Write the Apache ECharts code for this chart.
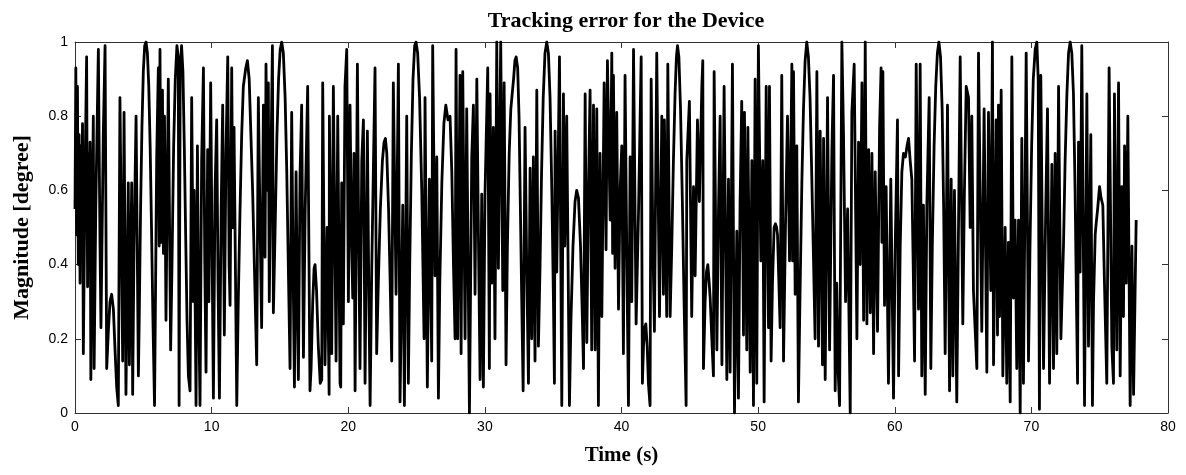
<!DOCTYPE html>
<html>
<head>
<meta charset="utf-8">
<script src="https://cdn.jsdelivr.net/npm/echarts@6/dist/echarts.min.js"></script>
<style>html,body{margin:0;padding:0;background:#fff;}#chart{width:1186px;height:475px;}</style>
</head>
<body>
<div id="chart"></div>
<script>
var titleText = 'Tracking error for the Device';
var xName = 'Time (s)';
var yName = 'Magnitude [degree]';
var xTicks = [0, 10, 20, 30, 40, 50, 60, 70, 80];
var yTicks = [0, 0.2, 0.4, 0.6, 0.8, 1];

var time = [
0.00,0.06,0.12,0.18,0.24,0.30,0.37,0.43,0.49,0.55,0.61,0.73,0.85,0.92,0.98,1.04,1.10,1.16,1.28,1.34,1.40,1.52,1.71,1.83,1.90,2.07,2.20,2.32,
2.44,2.56,2.68,2.81,2.93,3.05,3.17,3.29,3.49,3.59,3.73,3.90,3.98,4.15,4.22,4.32,4.47,4.64,
4.70,4.80,4.90,5.00,5.10,5.20,5.30,5.40,5.50,5.60,5.70,5.82,5.98,6.10,6.16,6.22,
6.30,6.40,6.47,6.55,6.66,6.83,7.00,7.10,7.22,7.34,7.46,7.56,7.62,7.70,7.80,7.90,8.00,8.10,8.20,8.30,8.42,
8.54,8.66,8.72,8.86,8.96,9.05,9.15,9.27,9.40,9.50,9.59,9.71,9.80,9.93,10.03,10.13,10.25,10.37,10.47,10.57,10.70,10.81,10.93,11.05,11.18,11.28,11.35,11.47,11.55,11.64,11.84,
11.95,12.08,12.20,12.32,12.50,12.62,12.75,13.00,13.30,
13.42,13.55,13.66,13.79,13.91,13.98,14.08,14.15,14.22,14.35,14.45,14.52,
14.65,14.78,14.90,15.02,15.13,15.25,15.38,15.50,15.62,15.74,
15.86,15.96,16.06,16.18,16.27,16.35,16.47,16.59,16.72,16.85,17.03,17.20,
17.28,17.40,17.50,17.57,17.68,17.81,17.95,18.06,
18.13,18.30,18.45,18.60,18.62,18.79,18.91,19.11,19.23,19.40,19.45,19.52,
19.64,19.76,19.89,20.01,20.13,20.25,20.33,20.42,20.50,20.67,20.76,20.86,20.99,21.11,21.23,21.40,21.50,21.60,21.72,21.96,22.08,
22.20,22.35,22.50,22.62,22.72,22.82,22.95,23.07,23.18,
23.30,23.50,23.67,23.79,23.99,24.11,24.28,24.40,
24.50,24.62,24.74,24.86,24.96,25.08,25.22,25.38,25.55,25.62,25.79,25.94,26.11,
26.18,26.35,26.48,26.60,
26.70,26.85,27.00,27.14,27.30,27.45,27.58,27.70,27.82,
27.89,28.01,28.18,28.26,28.38,28.55,28.67,28.87,29.04,29.16,29.28,29.41,29.55,29.65,29.77,29.89,30.01,30.21,30.33,30.38,30.50,30.62,30.74,30.87,30.99,31.16,31.31,31.41,31.55,
31.65,31.78,31.90,32.00,32.10,32.20,32.29,32.40,32.50,32.60,32.70,32.80,
32.94,33.06,33.19,33.31,33.43,33.55,33.67,33.80,33.92,
34.04,34.15,34.27,34.40,34.53,34.65,34.77,34.90,35.02,35.09,
35.14,35.26,35.46,35.63,35.75,35.85,35.99,36.19,
36.30,36.45,36.60,36.72,36.85,37.00,37.12,37.22,
37.34,37.46,37.58,37.70,37.82,37.95,38.07,38.19,38.31,38.43,38.56,38.73,38.87,38.97,39.17,39.29,
39.35,39.41,39.53,39.65,39.78,39.90,40.02,40.14,40.26,40.38,40.51,40.63,40.75,40.88,41.07,41.25,41.44,41.53,
41.61,41.70,41.78,41.88,41.97,42.09,
42.17,42.30,42.41,42.58,42.78,42.95,43.07,43.14,43.31,43.39,43.56,
43.68,43.80,43.92,44.02,44.10,44.20,44.32,44.45,44.58,44.73,
44.78,44.97,45.14,45.27,45.39,45.56,45.70,45.88,
45.95,46.00,46.12,46.22,46.32,46.42,46.49,46.61,46.73,46.78,46.98,47.10,47.22,47.35,47.51,47.71,47.83,47.95,48.12,48.27,48.44,48.56,48.68,48.80,48.93,49.00,49.17,49.25,49.42,49.54,49.66,49.78,49.90,50.02,50.20,50.34,50.44,50.59,50.76,50.83,50.95,
51.05,51.17,51.27,51.35,51.42,51.52,51.61,
51.73,51.86,52.00,52.15,52.30,52.47,
52.52,52.59,52.71,52.83,52.95,
53.08,53.20,53.32,53.44,53.56,53.68,53.80,53.92,54.05,54.17,
54.30,54.42,54.54,54.71,54.79,54.91,55.08,55.23,55.40,55.52,55.64,55.75,55.85,55.96,56.13,56.25,56.40,56.55,56.74,56.86,57.03,57.23,57.35,57.47,57.60,57.72,57.84,57.96,58.09,58.21,58.33,58.45,58.57,58.74,58.89,59.06,
59.00,59.06,59.13,59.25,59.37,59.54,59.71,59.91,60.03,60.20,60.28,
60.40,60.52,60.64,60.78,60.90,61.01,61.13,61.25,61.35,61.45,
61.57,61.74,61.86,61.98,62.10,62.23,62.35,62.52,62.64,
62.75,62.88,63.00,63.12,63.23,63.35,63.47,63.58,63.69,
63.86,64.01,64.13,64.25,64.37,64.54,64.79,64.98,65.10,65.23,65.40,65.52,65.64,
65.76,66.01,66.13,66.37,66.54,66.74,66.86,67.03,67.15,67.23,67.42,67.52,67.59,67.67,67.79,67.91,68.08,68.20,68.32,68.45,68.57,68.69,68.81,68.93,69.06,69.18,69.30,69.42,69.62,69.79,
69.90,70.02,70.14,70.28,70.40,70.50,70.59,70.69,70.89,71.05,71.18,71.33,71.50,71.62,71.74,71.86,71.99,72.16,
72.23,72.35,72.47,72.60,72.72,72.84,72.96,73.08,73.20,73.30,73.38,
73.45,73.57,73.69,73.82,73.89,74.06,74.18,74.35,74.47,
74.55,74.67,74.74,74.85,74.99,75.10,75.23,75.35,75.52,
75.69,75.89,76.01,76.08,76.25,76.38,76.50,76.62,76.74,76.82,76.94,77.06,77.23,77.36,77.48,77.67
];

var magnitude = [
0.55,0.93,0.48,0.88,0.40,0.75,0.35,0.72,0.55,0.78,0.16,0.62,0.96,0.34,0.70,0.40,0.73,0.09,0.60,0.80,0.12,0.55,0.98,0.45,0.23,0.75,0.99,0.12,
0.22,0.30,0.32,0.28,0.17,0.07,0.02,0.85,0.14,0.81,0.05,0.62,0.13,0.62,0.05,0.45,0.80,0.10,
0.25,0.55,0.77,0.92,0.99,1.00,0.97,0.88,0.72,0.50,0.26,0.02,0.69,0.93,0.45,0.98,
0.46,0.87,0.43,0.80,0.25,0.90,0.17,0.40,0.72,0.90,0.99,0.96,0.02,0.92,0.99,0.92,0.72,0.48,0.25,0.10,0.06,
0.85,0.30,0.60,0.02,0.72,0.30,0.02,0.68,0.93,0.40,0.11,0.71,0.30,0.89,0.45,0.04,0.60,0.79,0.35,0.04,0.55,0.83,0.21,0.70,0.96,0.40,0.29,0.93,0.50,0.77,0.02,
0.30,0.55,0.75,0.88,0.93,0.95,0.90,0.60,0.13,
0.85,0.50,0.23,0.83,0.42,0.94,0.60,0.89,0.30,0.70,0.99,0.27,
0.50,0.75,0.90,0.98,1.00,0.97,0.85,0.65,0.38,0.12,
0.81,0.40,0.07,0.65,0.30,0.09,0.64,0.83,0.15,0.55,0.88,0.06,
0.12,0.30,0.39,0.40,0.33,0.18,0.08,0.09,
0.89,0.13,0.50,0.05,0.80,0.16,0.88,0.14,0.80,0.08,0.07,0.62,
0.24,0.88,0.98,0.30,0.83,0.45,0.31,0.70,0.06,0.94,0.50,0.12,0.68,0.79,0.08,0.76,0.35,0.02,0.39,0.93,0.16,
0.35,0.55,0.68,0.73,0.74,0.70,0.55,0.35,0.14,
0.89,0.32,0.94,0.03,0.56,0.02,0.80,0.08,
0.40,0.70,0.90,0.99,1.00,0.97,0.85,0.60,0.20,0.85,0.07,0.63,0.14,
0.99,0.37,0.69,0.04,
0.35,0.62,0.78,0.83,0.79,0.80,0.65,0.40,0.20,
0.98,0.20,0.91,0.16,0.92,0.20,0.82,0.00,0.69,0.83,0.32,0.90,0.40,0.09,0.59,0.07,0.59,0.93,0.12,0.86,0.35,0.77,0.20,1.00,0.39,1.00,0.33,0.89,0.13,
0.45,0.70,0.82,0.86,0.90,0.95,0.96,0.93,0.80,0.55,0.30,0.06,
0.77,0.40,0.08,0.66,0.20,0.69,0.14,0.87,0.18,
0.40,0.65,0.85,0.97,1.00,0.97,0.85,0.60,0.30,0.08,
0.76,0.38,0.96,0.02,0.86,0.45,0.80,0.02,
0.25,0.45,0.57,0.60,0.58,0.45,0.28,0.12,
0.86,0.19,0.60,0.87,0.17,0.83,0.17,0.82,0.02,0.70,0.26,0.89,0.44,0.95,0.52,0.97,
0.43,0.91,0.39,0.81,0.28,0.60,0.72,0.16,0.91,0.45,0.02,0.69,0.30,0.98,0.24,0.55,0.96,0.08,
0.18,0.23,0.24,0.18,0.08,0.02,
0.90,0.45,0.22,0.97,0.26,0.80,0.32,0.79,0.26,0.94,0.26,
0.45,0.68,0.86,0.96,0.99,0.96,0.82,0.58,0.30,0.02,
0.68,0.84,0.26,0.61,0.37,0.79,0.57,0.88,
0.95,0.12,0.30,0.38,0.40,0.35,0.31,0.20,0.10,0.92,0.17,0.55,0.80,0.13,0.88,0.09,0.63,0.11,0.94,0.00,0.49,0.04,0.57,0.84,0.21,0.81,0.17,0.77,0.11,0.68,0.02,0.90,0.08,0.99,0.41,0.68,0.03,0.88,0.23,0.88,0.14,
0.35,0.50,0.51,0.50,0.48,0.35,0.23,
0.91,0.14,0.50,0.80,0.41,0.94,
0.41,0.92,0.32,0.72,0.03,
0.35,0.62,0.82,0.95,1.00,0.96,0.85,0.65,0.42,0.20,
0.92,0.18,0.76,0.13,0.74,0.09,0.85,0.17,0.71,0.91,0.06,0.35,0.12,0.02,1.00,0.75,0.30,0.55,0.00,0.81,0.94,0.20,0.73,0.40,0.89,0.25,1.00,0.24,0.71,0.27,0.70,0.16,0.65,0.22,0.77,0.46,
0.93,0.46,0.92,0.29,0.61,0.08,0.63,0.04,0.44,0.79,0.10,
0.45,0.65,0.70,0.69,0.72,0.74,0.68,0.63,0.40,0.14,
0.94,0.28,0.94,0.10,0.56,0.05,0.56,0.85,0.12,
0.45,0.72,0.88,0.97,1.00,0.96,0.82,0.55,0.16,
0.83,0.06,0.63,0.10,0.60,0.03,0.96,0.24,0.60,0.88,0.85,0.50,0.80,
0.33,0.12,0.97,0.22,0.82,0.11,0.81,0.33,1.00,0.13,0.79,0.21,0.83,0.26,0.87,0.10,0.50,0.08,0.46,0.03,0.96,0.31,0.52,0.12,0.52,0.00,0.74,0.08,0.97,0.14,
0.45,0.72,0.90,0.98,1.00,0.90,0.01,0.91,0.12,0.55,0.82,0.08,0.67,0.12,0.70,0.16,0.88,0.20,
0.20,0.45,0.68,0.86,0.97,1.00,0.97,0.86,0.60,0.30,0.08,
0.73,0.38,0.99,0.38,0.02,0.86,0.18,0.75,0.02,
0.30,0.48,0.51,0.55,0.61,0.58,0.56,0.35,0.08,
0.93,0.18,0.08,0.86,0.17,0.89,0.10,0.61,0.26,0.72,0.35,0.80,0.02,0.45,0.05,0.52
];

var seriesData = [];
for (var i = 0; i < Math.min(time.length, magnitude.length); i++) {
  seriesData.push([time[i], magnitude[i]]);
}
seriesData.sort(function (a, b) { return a[0] - b[0]; });

var axisColor = '#333';
var serif = '"Liberation Serif", "Times New Roman", serif';
var sans = '"Liberation Sans", Arial, sans-serif';

var chart = echarts.init(document.getElementById('chart'), null, {renderer: 'canvas'});
chart.setOption({
  animation: false,
  backgroundColor: '#fff',
  title: {
    text: titleText,
    left: 621, top: 5, textAlign: 'center',
    textStyle: {fontFamily: serif, fontWeight: 'bold', fontSize: 22, color: '#000'}
  },
  grid: {left: 75, right: 18, top: 42, bottom: 62, containLabel: false},
  xAxis: [{
    type: 'value', min: 0, max: 80, interval: 10, position: 'bottom',
    name: xName, nameLocation: 'middle', nameGap: 32,
    nameTextStyle: {fontFamily: serif, fontWeight: 'bold', fontSize: 21, color: '#000'},
    axisLine: {show: true, onZero: false, lineStyle: {color: axisColor, width: 1}},
    axisTick: {show: true, inside: true, length: 6, lineStyle: {color: axisColor}},
    axisLabel: {fontFamily: sans, fontSize: 14, color: '#000', margin: 7,
      formatter: function (v) { return xTicks.indexOf(v) >= 0 ? String(v) : ''; }},
    splitLine: {show: false}
  }, {
    type: 'value', min: 0, max: 80, interval: 10, position: 'top',
    axisLine: {show: true, onZero: false, lineStyle: {color: axisColor, width: 1}},
    axisTick: {show: true, inside: true, length: 6, lineStyle: {color: axisColor}},
    axisLabel: {show: false}, splitLine: {show: false}
  }],
  yAxis: [{
    type: 'value', min: 0, max: 1, interval: 0.2, position: 'left',
    name: yName, nameLocation: 'middle', nameGap: 42, nameRotate: 90,
    nameTextStyle: {fontFamily: serif, fontWeight: 'bold', fontSize: 22, color: '#000'},
    axisLine: {show: true, onZero: false, lineStyle: {color: axisColor, width: 1}},
    axisTick: {show: true, inside: true, length: 6, lineStyle: {color: axisColor}},
    axisLabel: {fontFamily: sans, fontSize: 14, color: '#000', margin: 7,
      formatter: function (v) {
        for (var k = 0; k < yTicks.length; k++) { if (Math.abs(yTicks[k] - v) < 1e-9) return String(yTicks[k]); }
        return '';
      }},
    splitLine: {show: false}
  }, {
    type: 'value', min: 0, max: 1, interval: 0.2, position: 'right',
    axisLine: {show: true, onZero: false, lineStyle: {color: axisColor, width: 1}},
    axisTick: {show: true, inside: true, length: 6, lineStyle: {color: axisColor}},
    axisLabel: {show: false}, splitLine: {show: false}
  }],
  series: [{
    type: 'line',
    xAxisIndex: 0, yAxisIndex: 0,
    data: seriesData,
    showSymbol: false,
    symbol: 'none',
    smooth: false,
    clip: true,
    lineStyle: {color: '#000', width: 2.8, join: 'round'}
  }]
});
</script>
</body>
</html>
